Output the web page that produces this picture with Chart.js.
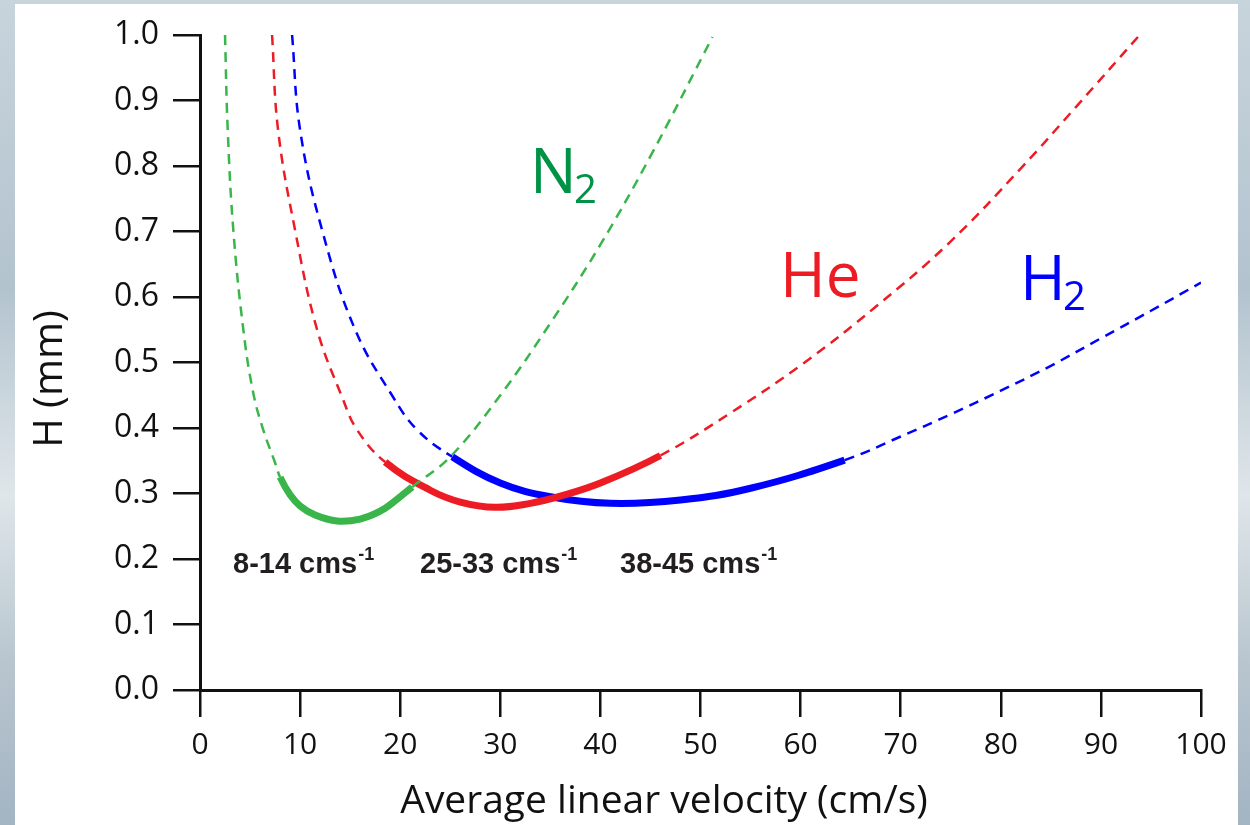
<!DOCTYPE html>
<html>
<head>
<meta charset="utf-8">
<script src="https://cdn.jsdelivr.net/npm/chart.js@4.4.1/dist/chart.umd.min.js"></script>
<style>
  html, body { margin: 0; padding: 0; }
  body {
    width: 1250px; height: 825px; overflow: hidden; position: relative;
    background: linear-gradient(180deg, #c8d4dc 0%, #b3c3ce 35%, #dfe6ea 60%, #b9c6cf 80%, #a3b4c3 100%);
  }
  #panel { position: absolute; left: 15px; top: 4px; width: 1223px; height: 821px; background: #fff; }
  #wrap { position: absolute; left: 0; top: 0; width: 1250px; height: 825px; }
</style>
</head>
<body>
<div id="panel"></div>
<div id="wrap"><canvas id="chart" width="1250" height="825"></canvas></div>
<script>
(function(){
  'use strict';

  // velocity (cm/s) and plate height H (mm)
  const n2Velocity = [2.5, 2.77, 3.33, 4.33, 5.3, 6.3, 7.5, 8.0, 9.0, 10.0, 11.5, 13.7, 16.0, 18.0, 19.5, 21.2, 25.0, 30.0, 35.0, 40.0, 45.0, 51.2];
  const n2Plate    = [1.0, 0.855, 0.702, 0.55, 0.455, 0.398, 0.347, 0.325, 0.298, 0.281, 0.267, 0.258, 0.261, 0.273, 0.289, 0.31, 0.356, 0.45, 0.56, 0.68, 0.815, 0.997];
  const n2Optimum  = [8.0, 21.2];

  const heVelocity = [7.2, 7.8, 9.5, 11.7, 14.2, 15.7, 18.5, 23.0, 26.0, 29.5, 33.0, 36.0, 40.0, 46.0, 53.0, 60.3, 67.5, 74.8, 82.1, 87.5, 93.7];
  const hePlate    = [1.0, 0.855, 0.702, 0.55, 0.447, 0.397, 0.348, 0.305, 0.287, 0.279, 0.285, 0.296, 0.316, 0.358, 0.423, 0.499, 0.585, 0.682, 0.798, 0.89, 0.997];
  const heOptimum  = [18.5, 46.0];

  const h2Velocity = [9.2, 10.0, 12.2, 15.5, 19.3, 21.7, 25.2, 30.0, 35.0, 41.0, 48.0, 55.0, 64.4, 70, 75, 80, 85, 90, 95, 100];
  const h2Plate    = [1.0, 0.855, 0.702, 0.55, 0.447, 0.397, 0.356, 0.316, 0.295, 0.285, 0.29, 0.308, 0.351, 0.387, 0.421, 0.457, 0.495, 0.537, 0.579, 0.622];
  const h2Optimum  = [25.2, 64.4];

  const xTickLabels = ['0', '10', '20', '30', '40', '50', '60', '70', '80', '90', '100'];
  const yTickLabels = ['0.0', '0.1', '0.2', '0.3', '0.4', '0.5', '0.6', '0.7', '0.8', '0.9', '1.0'];
  const rangeLabels = ['8-14 cms', '25-33 cms', '38-45 cms'];

  const toPoints = (xs, ys) => xs.map((x, i) => ({ x: x, y: ys[i] }));

  function gasLine(xs, ys, optimum, color) {
    const solid = ctx => ctx.p0.parsed.x >= optimum[0] - 1e-6 && ctx.p1.parsed.x <= optimum[1] + 1e-6;
    return {
      data: toPoints(xs, ys),
      borderColor: color,
      borderWidth: 2.5,
      borderDash: [10, 7],
      pointRadius: 0,
      tension: 0.4,
      segment: {
        borderWidth: ctx => solid(ctx) ? 7 : 2.5,
        borderDash: ctx => solid(ctx) ? [] : [10, 7]
      }
    };
  }

  const textPlugin = {
    id: 'textLabels',
    afterDatasetsDraw(chart) {
      const c = chart.ctx;
      c.save();
      c.fillStyle = '#111';
      c.textBaseline = 'alphabetic';

      c.font = '39px "Open Sans"';
      c.textAlign = 'center';
      c.fillText('Average linear velocity (cm/s)', 664, 813);

      c.save();
      c.translate(62, 379);
      c.rotate(-Math.PI / 2);
      c.font = '40px "Open Sans"';
      c.fillText('H (mm)', 0, 0);
      c.restore();

      c.textAlign = 'left';
      c.font = '62px "Open Sans"';
      c.fillStyle = '#009245';
      c.fillText('N', 530, 193);
      c.font = '40px "Open Sans"';
      c.fillText('2', 574, 203);

      c.font = '62px "Open Sans"';
      c.fillStyle = '#ed1c24';
      c.fillText('He', 780, 297);

      c.fillStyle = '#0000ff';
      c.fillText('H', 1020, 300);
      c.font = '40px "Open Sans"';
      c.fillText('2', 1063, 310);

      c.fillStyle = '#231f20';
      const starts = [233, 420, 620];
      rangeLabels.forEach((t, i) => {
        c.font = 'bold 29px "Liberation Sans"';
        c.fillText(t, starts[i], 573);
        const w = c.measureText(t).width;
        c.font = 'bold 18px "Liberation Sans"';
        c.fillText('-1', starts[i] + w + 1, 560);
      });
      c.restore();
    }
  };

  new Chart(document.getElementById('chart'), {
    type: 'line',
    data: {
      datasets: [
        gasLine(n2Velocity, n2Plate, n2Optimum, '#39b54a'),
        gasLine(heVelocity, hePlate, heOptimum, '#ed1c24'),
        gasLine(h2Velocity, h2Plate, h2Optimum, '#0000ff')
      ]
    },
    options: {
      responsive: false,
      animation: false,
      devicePixelRatio: 1,
      layout: { padding: { left: 0, top: 35, right: 49, bottom: 0 } },
      plugins: { legend: { display: false }, tooltip: { enabled: false } },
      scales: {
        x: {
          type: 'linear', min: 0, max: 100,
          afterFit: s => { s.height = 135; },
          border: { display: true, color: '#111', width: 3 },
          grid: { drawOnChartArea: false, drawTicks: true, tickLength: 27, color: '#111', lineWidth: 2.5 },
          ticks: {
            stepSize: 10, color: '#111', padding: 10,
            font: { family: 'Open Sans', size: 30 },
            callback: (v, i) => xTickLabels[i]
          }
        },
        y: {
          type: 'linear', min: 0, max: 1,
          afterFit: s => { s.width = 200; },
          border: { display: true, color: '#111', width: 3 },
          grid: { drawOnChartArea: false, drawTicks: true, tickLength: 27, color: '#111', lineWidth: 2.5 },
          ticks: {
            stepSize: 0.1, color: '#111', padding: 14,
            font: { family: 'Open Sans', size: 32 },
            callback: (v, i) => yTickLabels[i]
          }
        }
      }
    },
    plugins: [textPlugin]
  });
})();
</script>
</body>
</html>
